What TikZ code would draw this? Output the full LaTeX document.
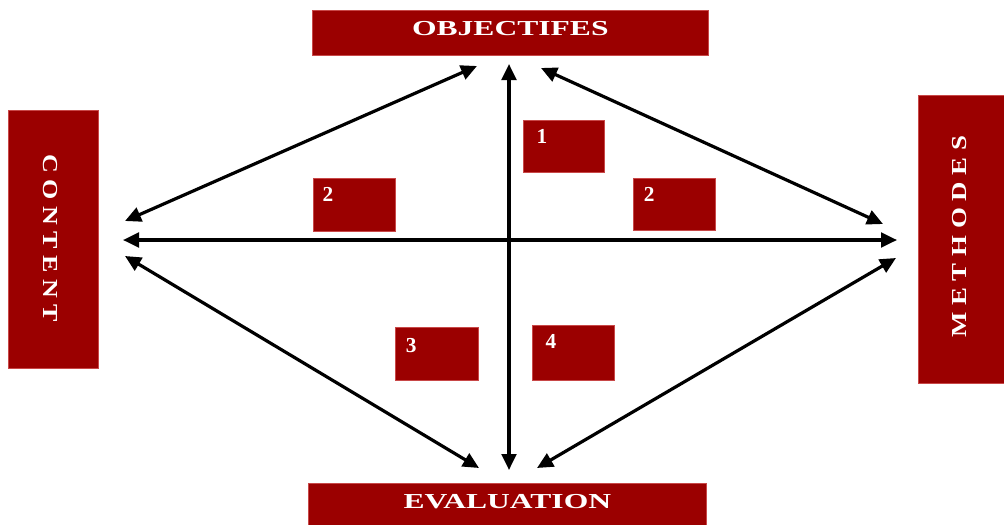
\documentclass[tikz,border=0pt]{standalone}
\usepackage{fontspec}
\setmainfont{Liberation Serif}
\usetikzlibrary{arrows.meta}
\definecolor{boxred}{HTML}{9B0000}
\definecolor{edgered}{HTML}{C84848}
\tikzset{
  redbox/.style={fill=boxred, draw=edgered, line width=0.5pt, inner sep=0pt, anchor=north west},
  lbl/.style={text=white, font=\bfseries\fontsize{16}{16}\selectfont, inner sep=0pt},
  dbl/.style={line width=2.4pt, {Triangle[length=12pt,width=11pt]}-{Triangle[length=12pt,width=11pt]}},
}
\begin{document}
\begin{tikzpicture}[x=0.75pt,y=-0.75pt]
\useasboundingbox (0,0) rectangle (1004,525);
% main boxes
\node[redbox, minimum width=396*0.75pt, minimum height=45*0.75pt] (obj) at (312,10) {};
\node[lbl] at ([yshift=3pt]obj.center) {\scalebox{1.48}[1]{OBJECTIFES}};
\node[redbox, minimum width=398*0.75pt, minimum height=44*0.75pt] (eva) at (308,483) {};
\node[lbl] at ([yshift=3pt]eva.center) {\scalebox{1.48}[1]{EVALUATION}};
\node[redbox, minimum width=90*0.75pt, minimum height=258*0.75pt] (con) at (8,110) {};
\node[lbl, rotate=-90] at ([xshift=-2pt,yshift=1pt]con.center) {\scalebox{1.22}[1]{C O N T E N T}};
\node[redbox, minimum width=86*0.75pt, minimum height=288*0.75pt] (met) at (918,95) {};
\node[lbl, rotate=90] at ([xshift=-1pt,yshift=2pt]met.center) {\scalebox{1.26}[1]{M E T H O D E S}};
% number boxes
\node[redbox, minimum width=81*0.75pt, minimum height=52*0.75pt] (b1) at (523,120) {};
\node[lbl, anchor=north west] at ([xshift=10pt,yshift=-7pt]b1.north west) {1};
\node[redbox, minimum width=82*0.75pt, minimum height=53*0.75pt] (b2l) at (313,178) {};
\node[lbl, anchor=north west] at ([xshift=7pt,yshift=-7pt]b2l.north west) {2};
\node[redbox, minimum width=82*0.75pt, minimum height=52*0.75pt] (b2r) at (633,178) {};
\node[lbl, anchor=north west] at ([xshift=8pt,yshift=-7pt]b2r.north west) {2};
\node[redbox, minimum width=83*0.75pt, minimum height=53*0.75pt] (b3) at (395,327) {};
\node[lbl, anchor=north west] at ([xshift=8pt,yshift=-8pt]b3.north west) {3};
\node[redbox, minimum width=82*0.75pt, minimum height=55*0.75pt] (b4) at (532,325) {};
\node[lbl, anchor=north west] at ([xshift=10pt,yshift=-7pt]b4.north west) {4};
% arrow end points
\coordinate (vt) at (509,64);
\coordinate (vb) at (509,470);
\coordinate (hl) at (123,240);
\coordinate (hr) at (897,240);
\coordinate (tl1) at (477,66);
\coordinate (tl2) at (125,221);
\coordinate (tr1) at (541,68);
\coordinate (tr2) at (883,224);
\coordinate (bl1) at (125,256);
\coordinate (bl2) at (479,468);
\coordinate (br1) at (537,468);
\coordinate (br2) at (896,258);
% arrows
\draw[dbl] (vt) -- (vb);
\draw[dbl] (hl) -- (hr);
\draw[dbl] (tl1) -- (tl2);
\draw[dbl] (tr1) -- (tr2);
\draw[dbl] (bl1) -- (bl2);
\draw[dbl] (br1) -- (br2);
\end{tikzpicture}
\end{document}
